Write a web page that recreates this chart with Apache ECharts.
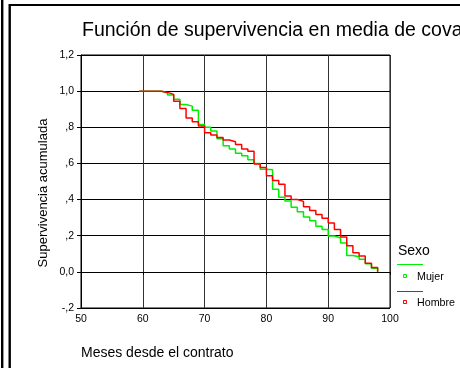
<!DOCTYPE html>
<html>
<head>
<meta charset="utf-8">
<script src="https://cdn.jsdelivr.net/npm/echarts@6/dist/echarts.min.js"></script>
<style>
html,body{margin:0;padding:0;background:#fff;}
#chart{width:460px;height:368px;}
</style>
</head>
<body>
<div id="chart"></div>
<script>
const titleText = 'Función de supervivencia en media de covariables';
const xAxisTitle = 'Meses desde el contrato';
const yAxisTitle = 'Supervivencia acumulada';
const legendTitle = 'Sexo';
const seriesNames = ['Mujer', 'Hombre'];
const xTicks = [50, 60, 70, 80, 90, 100];
const yTickLabels = ['-,2', '0,0', ',2', ',4', ',6', ',8', '1,0', '1,2'];
const months = [59.4, 63, 64, 65, 66, 67, 68, 69, 70, 71, 72, 73, 74, 75, 76, 77, 78, 79, 80, 81, 82, 83, 84, 85, 86, 87, 88, 89, 90, 91, 92, 93, 94, 95, 96, 97, 98];
const mujer = [1.0, 0.99, 0.978, 0.955, 0.926, 0.917, 0.894, 0.815, 0.80, 0.78, 0.737, 0.698, 0.68, 0.656, 0.642, 0.62, 0.60, 0.568, 0.565, 0.457, 0.413, 0.392, 0.357, 0.332, 0.303, 0.283, 0.253, 0.234, 0.198, 0.187, 0.16, 0.091, 0.084, 0.07, 0.045, 0.02, 0.0];
const hombre = [1.0, 0.993, 0.982, 0.944, 0.904, 0.852, 0.83, 0.807, 0.77, 0.757, 0.743, 0.73, 0.72, 0.705, 0.68, 0.668, 0.597, 0.578, 0.532, 0.506, 0.485, 0.42, 0.40, 0.39, 0.36, 0.339, 0.318, 0.296, 0.27, 0.235, 0.193, 0.145, 0.106, 0.088, 0.047, 0.024, 0.0];

const FONT = '"Liberation Sans", Arial, sans-serif';
const chart = echarts.init(document.getElementById('chart'), null, {renderer: 'canvas'});
const pairs = (xs, ys) => xs.map((x, i) => [x, ys[i]]);

chart.setOption({
  animation: false,
  backgroundColor: '#fff',
  grid: {left: 81, right: 70, top: 55, bottom: 60, show: true, borderColor: '#000', borderWidth: 1},
  xAxis: {
    type: 'value', min: xTicks[0], max: xTicks[xTicks.length - 1], interval: 10,
    axisLine: {show: true, lineStyle: {color: '#000', width: 1}},
    axisTick: {show: true, inside: false, length: 3, lineStyle: {color: '#000'}},
    axisLabel: {color: '#000', fontSize: 10.5, fontFamily: FONT, margin: 6},
    splitLine: {show: true, lineStyle: {color: '#333', width: 1}}
  },
  yAxis: {
    type: 'value', min: -0.2, max: 1.2, interval: 0.2,
    axisLine: {show: true, onZero: false, lineStyle: {color: '#000', width: 1}},
    axisTick: {show: true, inside: false, length: 4, lineStyle: {color: '#000'}},
    axisLabel: {color: '#000', fontSize: 10.5, fontFamily: FONT, margin: 7,
      formatter: v => yTickLabels[Math.round((v + 0.2) / 0.2)]},
    splitLine: {show: true, lineStyle: {color: '#000', width: 1}}
  },
  series: [
    {name: seriesNames[0], type: 'line', step: 'end', data: pairs(months, mujer), showSymbol: false,
      lineStyle: {color: '#00ee00', width: 1.5}, z: 3},
    {name: seriesNames[1], type: 'line', step: 'end', data: pairs(months, hombre), showSymbol: false,
      lineStyle: {color: '#ff0000', width: 1.5}, z: 4}
  ],
  graphic: [
    {type: 'line', shape: {x1: 2.2, y1: 0, x2: 2.2, y2: 368}, style: {stroke: '#000', lineWidth: 2.4}},
    {type: 'line', shape: {x1: 9.7, y1: 4, x2: 9.7, y2: 368}, style: {stroke: '#000', lineWidth: 2.4}},
    {type: 'line', shape: {x1: 9, y1: 5, x2: 460, y2: 5}, style: {stroke: '#000', lineWidth: 2}},
    {type: 'text', x: 82, y: 31, style: {text: titleText, font: '19.5px ' + FONT, fill: '#000', textVerticalAlign: 'middle'}},
    {type: 'text', x: 81, y: 353, style: {text: xAxisTitle, font: '14px ' + FONT, fill: '#000', textVerticalAlign: 'middle'}},
    {type: 'text', x: 43, y: 193, rotation: Math.PI / 2, style: {text: yAxisTitle, font: '13px ' + FONT, fill: '#000', textAlign: 'center', textVerticalAlign: 'middle'}},
    {type: 'text', x: 398, y: 251, style: {text: legendTitle, font: '14px ' + FONT, fill: '#000', textVerticalAlign: 'middle'}},
    {type: 'line', shape: {x1: 397, y1: 264.5, x2: 423, y2: 264.5}, style: {stroke: '#00ee00', lineWidth: 1}},
    {type: 'rect', shape: {x: 403.5, y: 274.5, width: 3, height: 3}, style: {stroke: '#00ee00', fill: 'none', lineWidth: 1}},
    {type: 'text', x: 417, y: 277, style: {text: seriesNames[0], font: '10.7px ' + FONT, fill: '#000', textVerticalAlign: 'middle'}},
    {type: 'line', shape: {x1: 397, y1: 291.5, x2: 423, y2: 291.5}, style: {stroke: '#ff0000', lineWidth: 1}},
    {type: 'rect', shape: {x: 403.5, y: 300.5, width: 3, height: 3}, style: {stroke: '#ff0000', fill: 'none', lineWidth: 1}},
    {type: 'text', x: 417, y: 303, style: {text: seriesNames[1], font: '10.7px ' + FONT, fill: '#000', textVerticalAlign: 'middle'}}
  ]
});
</script>
</body>
</html>
